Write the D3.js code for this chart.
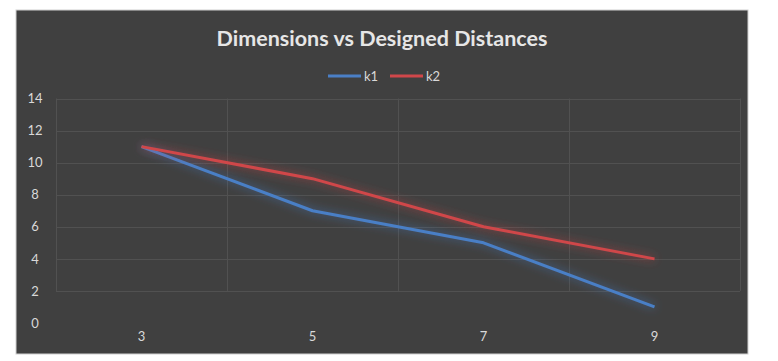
<!DOCTYPE html>
<html><head><meta charset="utf-8">
<script src="https://cdn.jsdelivr.net/npm/d3@7"></script>
<style>
html,body{margin:0;padding:0;background:#fff;}
svg{display:block;}
</style>
</head><body>
<svg id="chart" width="778" height="361"></svg>
<script>
const categories = ["3", "5", "7", "9"];
const k1 = [11, 7, 5, 1];
const k2 = [11, 9, 6, 4];
const yTicks = [0, 2, 4, 6, 8, 10, 12, 14];
const seriesNames = ["k1", "k2"];
const seriesColors = ["#4a7fc6", "#d0474a"];
const title = "Dimensions vs Designed Distances";

(function () {
const svg = d3.select("#chart");
const font = "Lato, 'Open Sans', sans-serif";

// chart area background
svg.append("rect").attr("x", 16).attr("y", 10).attr("width", 732).attr("height", 344)
  .attr("fill", "#404040").attr("stroke", "#d0d0d0").attr("stroke-width", 1);

const defs = svg.append("defs");
const f = defs.append("filter").attr("id", "glow").attr("x", "-10%").attr("y", "-30%").attr("width", "120%").attr("height", "160%");
f.append("feGaussianBlur").attr("in", "SourceGraphic").attr("stdDeviation", 5).attr("result", "b");
f.append("feComponentTransfer").attr("in", "b").attr("result", "b2")
  .append("feFuncA").attr("type", "linear").attr("slope", 0.75);
const m = f.append("feMerge");
m.append("feMergeNode").attr("in", "b2");
m.append("feMergeNode").attr("in", "SourceGraphic");

const pL = 56, pR = 740, pT = 98.5, pB = 323;
const x = d3.scaleBand().domain(categories).range([pL, pR]).padding(0);
const y = d3.scaleLinear().domain([0, 14]).range([pB, pT]);

// gridlines
const grid = svg.append("g").attr("stroke", "#515151").attr("stroke-width", 1);
yTicks.filter(t => t > 0).forEach(t => {
  grid.append("line").attr("x1", pL).attr("x2", pR)
    .attr("y1", Math.round(y(t)) + 0.5).attr("y2", Math.round(y(t)) + 0.5);
});
const vlines = categories.map(c => x(c)).concat([pR]);
vlines.forEach(v => {
  grid.append("line").attr("x1", Math.round(v) + 0.5).attr("x2", Math.round(v) + 0.5)
    .attr("y1", y(14)).attr("y2", y(2));
});

// y axis labels
const yAxis = d3.axisLeft(y).tickValues(yTicks).tickSize(0).tickPadding(0);
const gy = svg.append("g").attr("transform", `translate(${pL - 14},0)`).call(yAxis);
gy.select(".domain").remove();
gy.selectAll("text").attr("fill", "#d9d9d9").style("font-family", font).style("font-size", "13px").attr("text-anchor", "middle").attr("dx", "-7");

// x axis labels
const xAxis = d3.axisBottom(x).tickSize(0).tickPadding(0);
const gx = svg.append("g").attr("transform", `translate(0,${pB + 9})`).call(xAxis);
gx.select(".domain").remove();
gx.selectAll("text").attr("fill", "#d9d9d9").style("font-family", font).style("font-size", "13px");

// lines
const line = d3.line().x((d, i) => x(categories[i]) + x.bandwidth() / 2).y(d => y(d));
[k1, k2].forEach((s, i) => {
  svg.append("path").datum(s).attr("d", line).attr("fill", "none")
    .attr("stroke", seriesColors[i]).attr("stroke-width", 3)
    .attr("stroke-linejoin", "round").attr("filter", "url(#glow)");
});

// title
svg.append("text").attr("x", 382).attr("y", 46).attr("text-anchor", "middle")
  .attr("fill", "#e6e6e6").style("font-family", font).style("font-weight", "bold").style("font-size", "21.5px")
  .text(title);

// legend
const lg = svg.append("g");
const legendX = [328, 390];
seriesNames.forEach((n, i) => {
  lg.append("line").attr("x1", legendX[i]).attr("x2", legendX[i] + 33).attr("y1", 76).attr("y2", 76)
    .attr("stroke", seriesColors[i]).attr("stroke-width", 3);
  lg.append("text").attr("x", legendX[i] + 36).attr("y", 81).attr("fill", "#d9d9d9")
    .style("font-family", font).style("font-size", "13px").text(n);
});
})();
</script>
</body></html>
